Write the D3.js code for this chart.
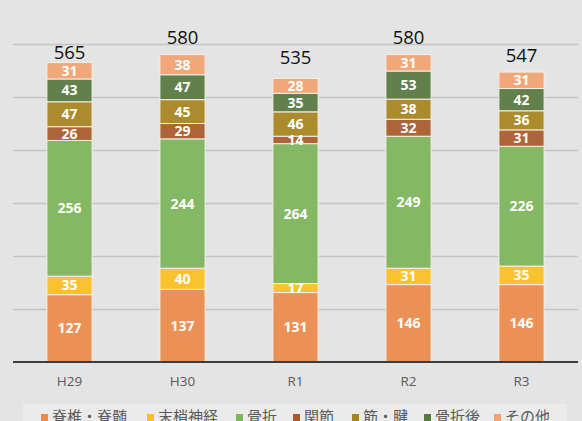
<!DOCTYPE html>
<html><head><meta charset="utf-8">
<script src="https://cdn.jsdelivr.net/npm/d3@7"></script>
<style>body{margin:0;background:#e4e4e4;}svg{display:block;}</style>
</head><body>
<svg id="c" width="582" height="421"></svg>
<script>
const categories = ["H29","H30","R1","R2","R3"];
const seriesNames = ["脊椎・脊髄","末梢神経","骨折","関節","筋・腱","骨折後","その他"];
const seriesColors = ["#ED8B4A","#FDC021","#7DB55A","#A85A2B","#A8841F","#57793F","#F2A26F"];
const sekitsui = [127,137,131,146,146];
const masshou = [35,40,17,31,35];
const kossetsu = [256,244,264,249,226];
const kansetsu = [26,29,14,32,31];
const kinken = [47,45,46,38,36];
const kossetsugo = [43,47,35,53,42];
const sonota = [31,38,28,31,31];
const totals = [565,580,535,580,547];
const yTicks = [0,100,200,300,400,500,600];

// layout: gap (px) between bar top and total label baseline, as placed in the original
const totalLabelGap = [4,11,14,11,10];

const seriesValues = [sekitsui,masshou,kossetsu,kansetsu,kinken,kossetsugo,sonota];
const rows = categories.map((c,i)=>{const r={cat:c};seriesNames.forEach((s,j)=>r[s]=seriesValues[j][i]);return r;});
const stack = d3.stack().keys(seriesNames)(rows);

const svg = d3.select("#c");
svg.append("rect").attr("width",582).attr("height",421).attr("fill","#e4e4e4");
const x = d3.scaleBand().domain(categories).range([13,578]).paddingInner(0.6).paddingOuter(0.3);
const y = d3.scaleLinear().domain([0,600]).range([362,44]);

// gridlines
svg.append("g").selectAll("line").data(yTicks.filter(t=>t>0)).join("line")
  .attr("x1",13).attr("x2",578).attr("y1",d=>Math.round(y(d))+0.5).attr("y2",d=>Math.round(y(d))+0.5)
  .attr("stroke","#c4c4c4").attr("stroke-width",1.5);

// bars
const g = svg.append("g");
stack.forEach((layer,j)=>{
  g.append("g").selectAll("rect").data(layer).join("rect")
    .attr("x",d=>x(d.data.cat)).attr("width",x.bandwidth())
    .attr("y",d=>y(d[1])).attr("height",d=>y(d[0])-y(d[1]))
    .attr("fill",seriesColors[j]).attr("fill-opacity",0.93)
    .attr("stroke","#f4efe9").attr("stroke-width",1);
});
// segment labels
stack.forEach((layer,j)=>{
  g.append("g").selectAll("text").data(layer).join("text")
    .attr("x",d=>x(d.data.cat)+x.bandwidth()/2)
    .attr("y",d=>(y(d[0])+y(d[1]))/2)
    .attr("dy","0.36em").attr("text-anchor","middle")
    .attr("font-family","'Open Sans', 'Liberation Sans', sans-serif").attr("font-weight","bold")
    .attr("font-size",14).attr("fill","#ffffff")
    .text(d=>d[1]-d[0]);
});
// totals
svg.append("g").selectAll("text").data(categories).join("text")
  .attr("x",c=>x(c)+x.bandwidth()/2).attr("y",(c,i)=>y(totals[i])-totalLabelGap[i])
  .attr("text-anchor","middle").attr("font-family","'Open Sans', 'Liberation Sans', sans-serif")
  .attr("font-size",18.5).attr("fill","#111").text((c,i)=>totals[i]);

// baseline axis
const ax = svg.append("g").attr("transform","translate(0,362)")
  .call(d3.axisBottom(x).tickSize(0).tickPadding(14));
ax.select(".domain").attr("stroke","#3d3d3d").attr("stroke-width",2).attr("d","M13,0H578");
ax.selectAll("text").attr("font-family","'Open Sans', 'Liberation Sans', sans-serif").attr("font-size",13.5).attr("fill","#5a5a5a");

// legend
svg.append("rect").attr("x",23).attr("y",404).attr("width",544).attr("height",30).attr("fill","#ebebeb");
const legendX = [41,147,236,293,352,424,494];
const lg = svg.append("g").selectAll("g").data(seriesNames).join("g")
  .attr("transform",(d,i)=>`translate(${legendX[i]},0)`);
lg.append("rect").attr("x",0).attr("y",414).attr("width",7).attr("height",7).attr("fill",(d,i)=>seriesColors[i]);
lg.append("text").attr("x",11).attr("y",422).attr("font-family","'Noto Sans CJK JP', sans-serif")
  .attr("font-size",15).attr("fill","#5a5a5a").text(d=>d);
</script>
</body></html>
